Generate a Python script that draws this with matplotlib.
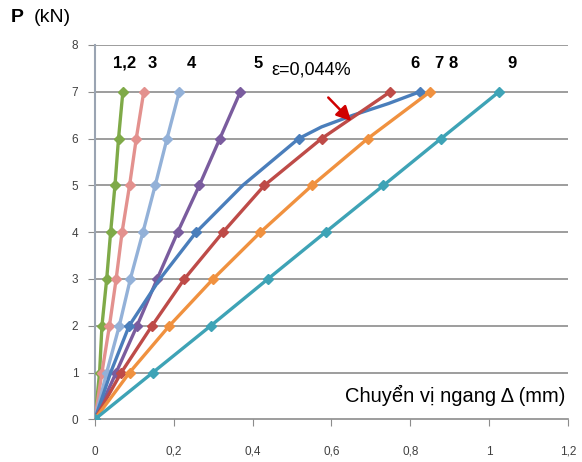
import matplotlib
matplotlib.use("Agg")
import matplotlib.pyplot as plt

# tai trong P (kN)
P = [0, 1, 2, 3, 4, 5, 6, 7]

# chuyen vi ngang (mm) doc tu do thi
d_green = [0, 0.012, 0.018, 0.030, 0.040, 0.051, 0.060, 0.071]
d_pink = [0, 0.018, 0.037, 0.054, 0.069, 0.088, 0.105, 0.124]
d_ltblue = [0, 0.030, 0.062, 0.090, 0.122, 0.153, 0.183, 0.214]
d_purple = [0, 0.054, 0.107, 0.158, 0.210, 0.265, 0.317, 0.369]
d_red = [0, 0.067, 0.145, 0.227, 0.325, 0.430, 0.575, 0.749]
d_orange = [0, 0.088, 0.189, 0.300, 0.420, 0.551, 0.692, 0.850]
d_teal = [0, 0.147, 0.294, 0.439, 0.585, 0.732, 0.878, 1.025]
# duong xanh dam (duong cong tron), diem danh dau tai 0, 2, 4, 6, 7 kN
P_blue = [0, 1, 2, 3, 4, 5, 6, 6.25, 6.5, 6.75, 7]
d_blue = [0, 0.040, 0.087, 0.165, 0.257, 0.375, 0.517, 0.575, 0.655, 0.745, 0.824]
blue_marks = [0, 2, 4, 6, 10]

so_hieu = ["1,2", "3", "4", "5", "6", "7", "8", "9"]
x_nhan = [0.076, 0.146, 0.245, 0.415, 0.812, 0.872, 0.909, 1.057]

xticks = [0, 0.2, 0.4, 0.6, 0.8, 1.0, 1.2]
xlabels = ["0", "0,2", "0,4", "0,6", "0,8", "1", "1,2"]

plt.rcParams["font.family"] = ["Liberation Sans", "DejaVu Sans"]

fig = plt.figure(figsize=(5.82, 4.62), dpi=100)
ax = fig.add_axes([0.163, 0.0924, 0.813, 0.8102])

for y in range(1, 9):
    ax.axhline(y, color="#8C8C8C", lw=1.2, zorder=0)

kw = dict(lw=2.4, marker="D", ms=5.5, zorder=3)
ax.plot(d_green, P, color="#7FAA48", **kw)
ax.plot(d_pink, P, color="#E3918E", **kw)
ax.plot(d_ltblue, P, color="#93B1D8", **kw)
ax.plot(d_purple, P, color="#7A5C9E", **kw)
ax.plot(d_blue, P_blue, color="#4A7EBB", markevery=blue_marks, **kw)
ax.plot(d_red, P, color="#BE4B48", **kw)
ax.plot(d_orange, P, color="#F0913F", **kw)
ax.plot(d_teal, P, color="#3EA3B6", **kw)

for t, xv in zip(so_hieu, x_nhan):
    ax.text(xv, 7.61, t, ha="center", va="center", fontsize=12,
            fontweight="bold", color="black")

ax.text(0.448, 7.46, "\u03b5=0,044%", ha="left", va="center", fontsize=13)
ax.annotate("", xy=(0.655, 6.33), xytext=(0.587, 6.92),
            arrowprops=dict(arrowstyle="-|>", color="#D00000", lw=1.8,
                            mutation_scale=22), zorder=6)

ax.text(1.192, 0.52, "Chuy\u1ec3n v\u1ecb ngang \u0394 (mm)", ha="right",
        va="center", fontsize=14.5, zorder=5,
        bbox=dict(facecolor="white", edgecolor="none", pad=2))

ax.set_xlim(0, 1.2)
ax.set_ylim(0, 8)
ax.set_xticks(xticks)
ax.set_xticklabels(xlabels)
ax.set_yticks(range(0, 9))
ax.tick_params(axis="x", direction="out", length=5, pad=14, labelsize=8.5,
               color="#8C8C8C", labelcolor="#404040")
ax.tick_params(axis="y", direction="out", length=5, pad=7, labelsize=8.5,
               color="#8C8C8C", labelcolor="#404040")
for s in ["top", "right"]:
    ax.spines[s].set_visible(False)
ax.spines["left"].set_color("#9AA4B2")
ax.spines["left"].set_linewidth(1.5)
ax.spines["bottom"].set_color("#8C8C8C")
ax.spines["bottom"].set_linewidth(1.2)

fig.text(0.019, 0.962, "P", fontsize=14, fontweight="bold", va="center")
fig.text(0.058, 0.962, "(kN)", fontsize=14, va="center")

fig.savefig("out.png", dpi=100)
